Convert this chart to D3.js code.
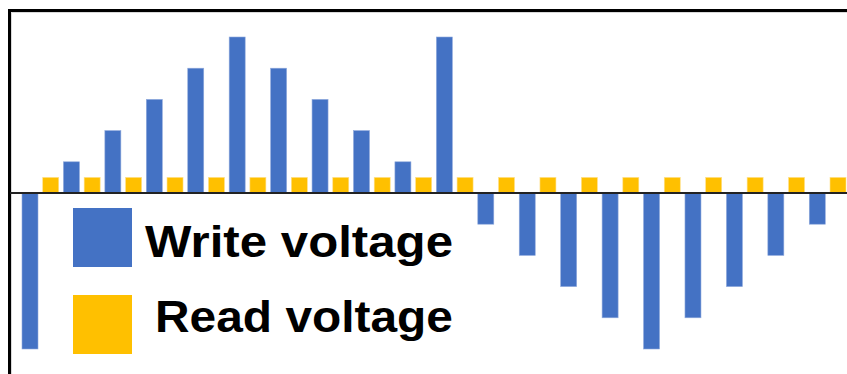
<!DOCTYPE html>
<html>
<head>
<meta charset="utf-8">
<script src="https://cdn.jsdelivr.net/npm/d3@7"></script>
<style>
html,body{margin:0;padding:0;background:#fff;}
svg{display:block;}
</style>
</head>
<body>
<svg id="chart" width="847" height="374"></svg>
<script>
// Pulse slots (alternating write / read pulses)
const writeSlots = ["W1","W2","W3","W4","W5","W6","W7","W8","W9","W10","W11","W12","W13","W14","W15","W16","W17","W18","W19","W20"];
const readSlots  = ["R1","R2","R3","R4","R5","R6","R7","R8","R9","R10","R11","R12","R13","R14","R15","R16","R17","R18","R19","R20"];
const writeVoltage = [-5, 1, 2, 3, 4, 5, 4, 3, 2, 1, 5, -1, -2, -3, -4, -5, -4, -3, -2, -1];
const readVoltage  = [0.5, 0.5, 0.5, 0.5, 0.5, 0.5, 0.5, 0.5, 0.5, 0.5, 0.5, 0.5, 0.5, 0.5, 0.5, 0.5, 0.5, 0.5, 0.5, 0.5];
const seriesNames = ["Write voltage", "Read voltage"];
const seriesColors = ["#4472C4", "#FFC000"];

const categories = [];
writeSlots.forEach((w, i) => { categories.push(w); categories.push(readSlots[i]); });

const svg = d3.select("#chart");
const W = 847, H = 374;

const x = d3.scaleBand()
  .domain(categories)
  .range([19.64, 848.36])
  .paddingInner(0.228)
  .paddingOuter(0.114);

const y = d3.scaleLinear().domain([-5, 5]).range([349, 37]);

const bars = [];
writeSlots.forEach((c, i) => bars.push({cat: c, v: writeVoltage[i], s: 0}));
readSlots.forEach((c, i) => bars.push({cat: c, v: readVoltage[i], s: 1}));

// frame
svg.append("path")
  .attr("d", `M9.5,${H+5} L9.5,10.5 L${W+5},10.5`)
  .attr("fill", "none").attr("stroke", "#000").attr("stroke-width", 3);
svg.append("path")
  .attr("d", `M11.5,${H+5} L11.5,12.5 L${W+5},12.5`)
  .attr("fill", "none").attr("stroke", "#d9d9d9").attr("stroke-width", 1);

svg.append("g").selectAll("rect").data(bars).join("rect")
  .attr("x", d => x(d.cat))
  .attr("width", x.bandwidth())
  .attr("y", d => y(Math.max(0, d.v)))
  .attr("height", d => Math.abs(y(d.v) - y(0)))
  .attr("fill", d => seriesColors[d.s])
  .attr("stroke", d => d.s === 0 ? "#8fa9dc" : "#ffe08a")
  .attr("stroke-width", 0.6);

// zero axis
const xAxis = d3.axisBottom(x).tickSize(0).tickFormat("");
const axG = svg.append("g").attr("transform", `translate(0,${y(0)})`).call(xAxis);
axG.select(".domain").attr("d", `M10,0H${W}`).attr("stroke", "#222").attr("stroke-width", 2);

// legend
const legend = svg.append("g");
const legY = [208, 295];
const legTextY = [257, 332];
const legLen = [308, 298];
const legTextX = [145, 155];
seriesNames.forEach((n, i) => {
  legend.append("rect").attr("x", 73).attr("y", legY[i]).attr("width", 59).attr("height", 59)
    .attr("fill", seriesColors[i]);
  legend.append("text").attr("x", legTextX[i]).attr("y", legTextY[i])
    .attr("font-family", "Liberation Sans, Arial, sans-serif")
    .attr("font-weight", "bold").attr("font-size", 45)
    .attr("textLength", legLen[i]).attr("lengthAdjust", "spacingAndGlyphs")
    .attr("fill", "#000").text(n);
});
</script>
</body>
</html>
